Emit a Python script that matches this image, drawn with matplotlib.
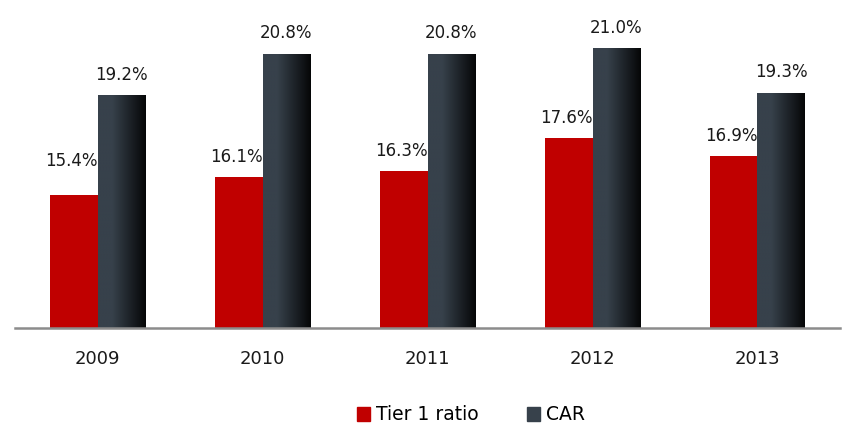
import numpy as np
import matplotlib.pyplot as plt
from matplotlib.patches import Patch
from matplotlib.colors import LinearSegmentedColormap

years = ["2009", "2010", "2011", "2012", "2013"]
tier1 = [15.4, 16.1, 16.3, 17.6, 16.9]
car = [19.2, 20.8, 20.8, 21.0, 19.3]

red = "#c00000"
dark = "#37414b"
car_cmap = LinearSegmentedColormap.from_list(
    "car", [(0, dark), (0.3, dark), (1, "#050607")])

fig = plt.figure(figsize=(8.42, 4.25), dpi=100)
ax = fig.add_axes([15 / 842, 1 - 328 / 425, 825 / 842, 328 / 425])

x = np.arange(len(years))
w = 0.29
ax.bar(x - w / 2, tier1, w, color=red, zorder=2)
car_bars = ax.bar(x + w / 2, car, w, color=dark, zorder=2)

# gradient fill for CAR bars
grad = np.linspace(0, 1, 256).reshape(1, -1)
for b in car_bars:
    x0 = b.get_x()
    ax.imshow(grad, cmap=car_cmap, aspect="auto", zorder=3,
              extent=[x0, x0 + b.get_width(), 10.3, b.get_height()])

ax.set_xlim(-0.5, len(years) - 0.5)
ax.set_ylim(10.3, 22.87)

lab_off = [34, 20, 20, 20, 20]
for i in range(len(years)):
    ax.annotate(f"{tier1[i]:.1f}%", (x[i] - w / 2, tier1[i]),
                xytext=(-2, lab_off[i]), textcoords="offset pixels",
                ha="center", va="center", fontsize=12, color="#1a1a1a")
    ax.annotate(f"{car[i]:.1f}%", (x[i] + w / 2, car[i]),
                xytext=(0, 21), textcoords="offset pixels",
                ha="center", va="center", fontsize=12, color="#1a1a1a")

ax.set_xticks(x)
ax.set_xticklabels(years, fontsize=13, color="#1a1a1a")
ax.tick_params(axis="x", length=0, pad=16)
ax.set_yticks([])
for s in ["top", "right", "left"]:
    ax.spines[s].set_visible(False)
ax.spines["bottom"].set_color("#8c8c8c")
ax.spines["bottom"].set_linewidth(1.8)
ax.spines["bottom"].set_zorder(4)

handles = [Patch(color=red, label="Tier 1 ratio"),
           Patch(color=dark, label="CAR")]
fig.legend(handles=handles, loc="center", bbox_to_anchor=(471 / 842, 1 - 415 / 425),
           ncol=2, frameon=False, fontsize=13.5, handlelength=0.7,
           handleheight=0.7, columnspacing=2.6, handletextpad=0.3,
           borderpad=0)

plt.savefig("out.png", dpi=100)
